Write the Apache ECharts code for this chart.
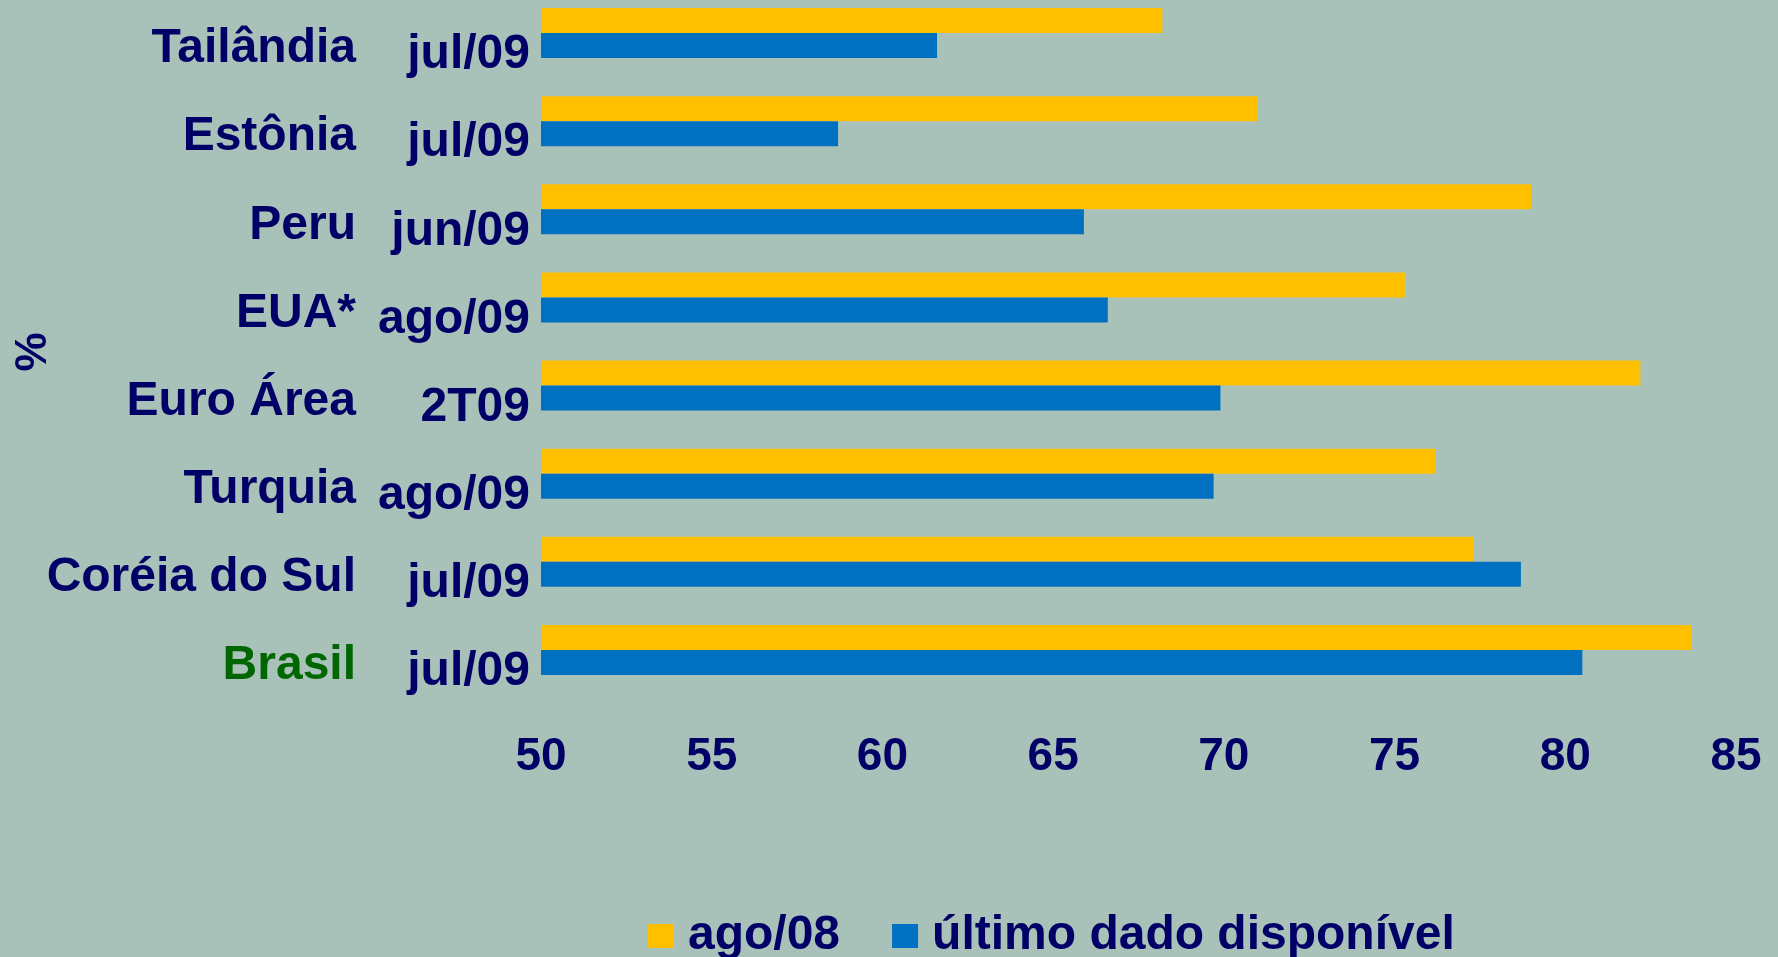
<!DOCTYPE html>
<html>
<head>
<meta charset="utf-8">
<script src="https://cdn.jsdelivr.net/npm/echarts@6/dist/echarts.min.js"></script>
<style>
html, body { margin: 0; padding: 0; background: #a9c2b9; overflow: hidden; }
/* the first band starts above the page edge, so the box is pulled up 20px */
#chart { position: relative; top: -20px; width: 1778px; height: 977px; }
</style>
</head>
<body>
<div id="chart"></div>
<script>
var paises = ['Tailândia', 'Estônia', 'Peru', 'EUA*', 'Euro Área', 'Turquia', 'Coréia do Sul', 'Brasil'];
var datas = ['jul/09', 'jul/09', 'jun/09', 'ago/09', '2T09', 'ago/09', 'jul/09', 'jul/09'];
var ago08 = [68.2, 71.0, 79.0, 75.3, 82.2, 76.2, 77.3, 83.7];
var ultimo = [61.6, 58.7, 65.9, 66.6, 69.9, 69.7, 78.7, 80.5];
var ticks = [50, 55, 60, 65, 70, 75, 80, 85];

var azul = '#000066';
var fonte = 'Liberation Sans, Arial, sans-serif';

var chart = echarts.init(document.getElementById('chart'));

var option = {
	backgroundColor: '#a9c2b9',
	textStyle: { fontFamily: fonte },
	legend: {
		top: 927,
		left: 643,
		itemWidth: 26,
		itemHeight: 24,
		itemGap: 52,
		icon: 'rect',
		textStyle: { color: azul, fontSize: 48, fontWeight: 'bold', fontFamily: fonte, padding: [0, 0, 0, 9] },
		data: ['ago/08', 'último dado disponível']
	},
	grid: { left: 541, right: 42, top: 9, bottom: 263 },
	xAxis: {
		type: 'value',
		min: ticks[0],
		max: ticks[ticks.length - 1],
		interval: 5,
		axisLine: { show: false },
		axisTick: { show: false },
		splitLine: { show: false },
		axisLabel: {
			margin: 40,
			color: azul,
			fontSize: 46,
			fontWeight: 'bold',
			fontFamily: fonte
		}
	},
	yAxis: [
		{
			type: 'category',
			inverse: true,
			data: datas,
			axisLine: { show: false },
			axisTick: { show: false },
			axisLabel: {
				margin: 11,
				color: azul,
				fontSize: 48,
				fontWeight: 'bold',
				fontFamily: fonte,
				verticalAlign: 'top',
				lineHeight: 44,
				interval: 0
			}
		},
		{
			type: 'category',
			inverse: true,
			position: 'left',
			data: paises,
			axisLine: { show: false },
			axisTick: { show: false },
			axisLabel: {
				margin: 185,
				fontSize: 48,
				fontWeight: 'bold',
				fontFamily: fonte,
				verticalAlign: 'top',
				lineHeight: 32,
				interval: 0,
				color: function (v) {
					return v == 'Brasil' ? '#006600' : azul;
				}
			}
		}
	],
	graphic: [
		{
			type: 'text',
			x: 34,
			y: 372,
			rotation: Math.PI / 2,
			style: {
				text: '%',
				fill: azul,
				font: 'bold 44px ' + fonte,
				align: 'center',
				verticalAlign: 'middle'
			}
		}
	],
	series: [
		{
			name: 'ago/08',
			type: 'bar',
			yAxisIndex: 0,
			barWidth: 25,
			barGap: '0%',
			itemStyle: { color: '#ffc000' },
			data: ago08
		},
		{
			name: 'último dado disponível',
			type: 'bar',
			yAxisIndex: 0,
			barWidth: 25,
			barGap: '0%',
			itemStyle: { color: '#0070c0' },
			data: ultimo
		}
	]
};

chart.setOption(option);
</script>
</body>
</html>
